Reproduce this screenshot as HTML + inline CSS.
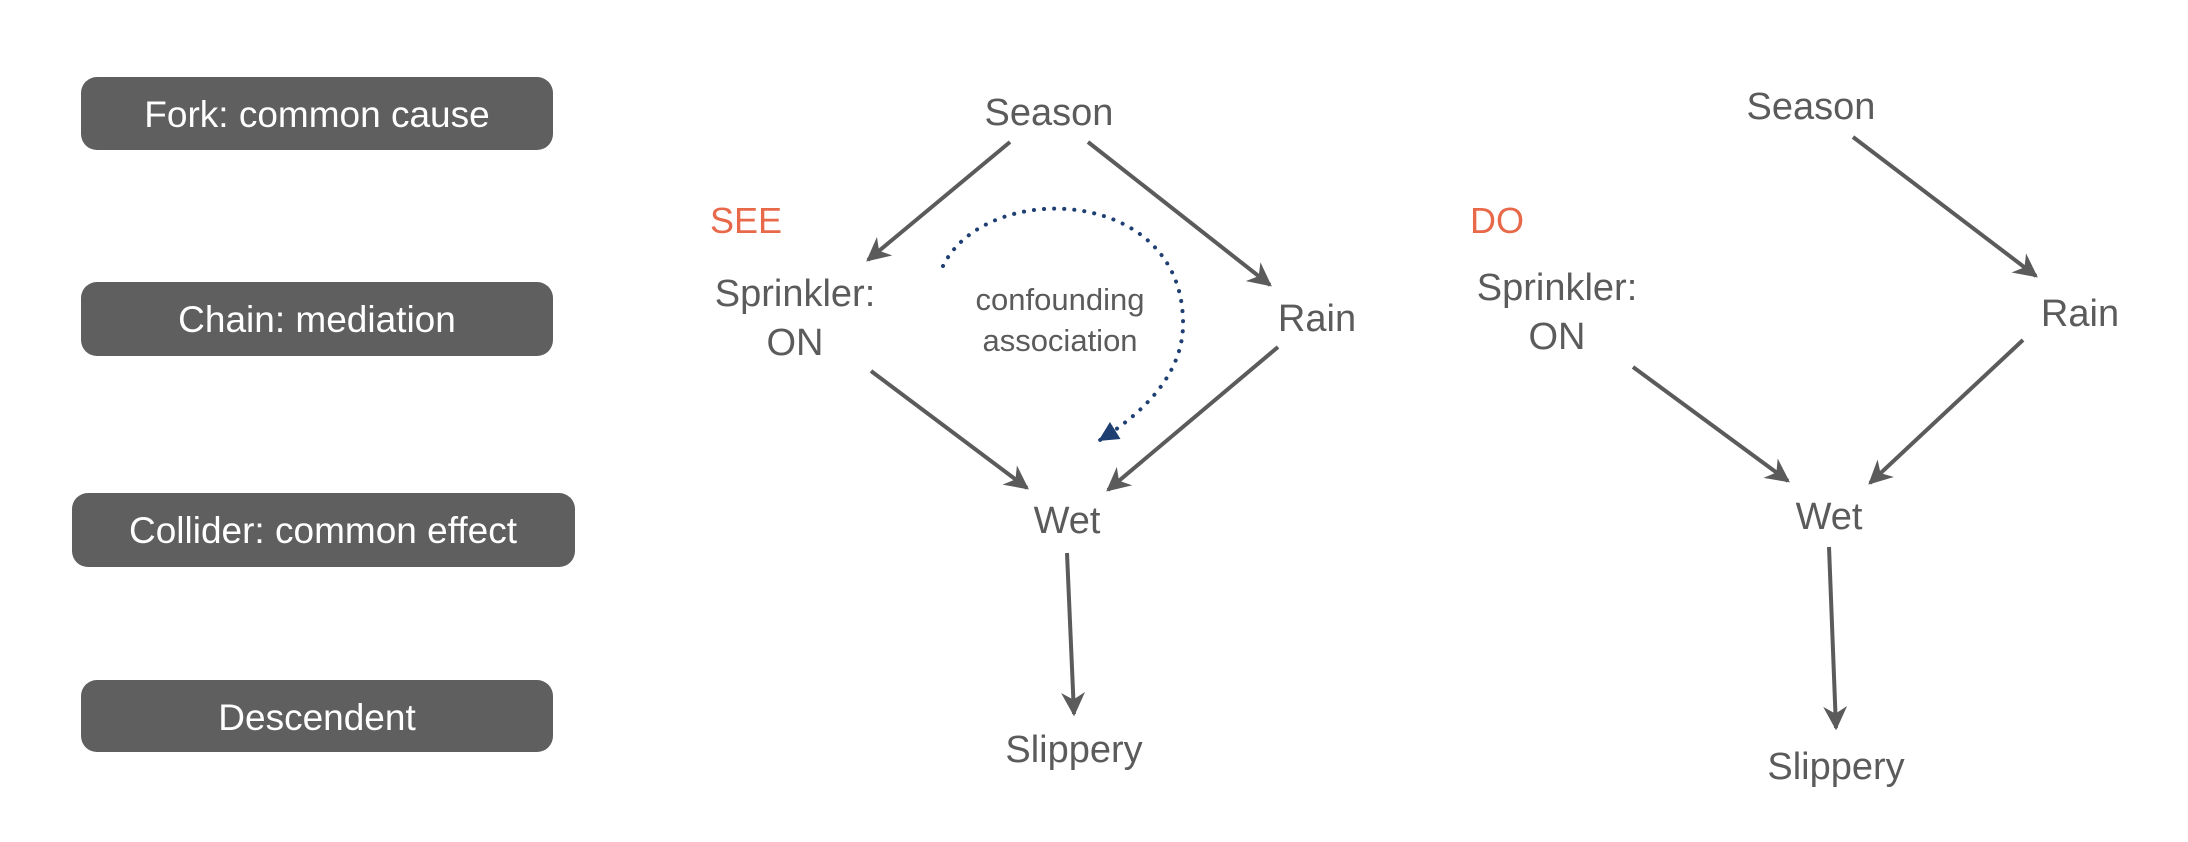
<!DOCTYPE html>
<html><head><meta charset="utf-8"><style>
html,body{margin:0;padding:0;background:#fff;}
svg{display:block;}
text{font-family:"Liberation Sans",sans-serif;}
</style></head><body>
<svg width="2188" height="842" viewBox="0 0 2188 842">
<defs>
<marker id="ah" viewBox="0 0 10 10" refX="9" refY="5" markerWidth="6" markerHeight="6" markerUnits="strokeWidth" orient="auto"><path d="M0,0 L10,5 L0,10 L3,5 z" fill="#5b5b5b"/></marker>
<marker id="ahb" viewBox="0 0 10 10" refX="9" refY="5" markerWidth="5" markerHeight="5" markerUnits="strokeWidth" orient="auto"><path d="M0,0 L10,5 L0,10 z" fill="#1f3f73"/></marker>
</defs>
<g font-size="37" fill="#fff" text-anchor="middle">
<rect x="81" y="77" width="472" height="73" rx="16" fill="#5f5f5f"/>
<text x="317" y="127">Fork: common cause</text>
<rect x="81" y="282" width="472" height="74" rx="16" fill="#5f5f5f"/>
<text x="317" y="332">Chain: mediation</text>
<rect x="72" y="493" width="503" height="74" rx="16" fill="#5f5f5f"/>
<text x="323" y="543">Collider: common effect</text>
<rect x="81" y="680" width="472" height="72" rx="16" fill="#5f5f5f"/>
<text x="317" y="730">Descendent</text>
</g>
<g fill="#5b5b5b" font-size="38" text-anchor="middle">
<text x="746" y="233" fill="#e8694a" font-size="36">SEE</text>
<text x="1049" y="125">Season</text>
<text x="795" y="306">Sprinkler:</text>
<text x="795" y="355">ON</text>
<text x="1317" y="331">Rain</text>
<text x="1067" y="533">Wet</text>
<text x="1074" y="762">Slippery</text>
<text x="1060" y="310" font-size="31">confounding</text>
<text x="1060" y="351" font-size="31">association</text>
<g stroke="#5b5b5b" stroke-width="4" marker-end="url(#ah)">
<line x1="1010" y1="142" x2="868" y2="260"/>
<line x1="1088" y1="142" x2="1270" y2="285"/>
<line x1="871" y1="371" x2="1027" y2="488"/>
<line x1="1278" y1="347" x2="1108" y2="490"/>
<line x1="1067" y1="553" x2="1074" y2="714"/>
</g>
<path d="M943,266 C985,180 1180,185 1183,320 C1185,375 1140,415 1100,440" fill="none" stroke="#1f3f73" stroke-width="4" stroke-linecap="round" stroke-dasharray="0.1 10" marker-end="url(#ahb)"/>
</g>
<g fill="#5b5b5b" font-size="38" text-anchor="middle">
<text x="1497" y="233" fill="#e8694a" font-size="36">DO</text>
<text x="1811" y="119">Season</text>
<text x="1557" y="300">Sprinkler:</text>
<text x="1557" y="349">ON</text>
<text x="2080" y="326">Rain</text>
<text x="1829" y="529">Wet</text>
<text x="1836" y="779">Slippery</text>
<g stroke="#5b5b5b" stroke-width="4" marker-end="url(#ah)">
<line x1="1853" y1="137" x2="2036" y2="276"/>
<line x1="1633" y1="367" x2="1788" y2="481"/>
<line x1="2023" y1="340" x2="1870" y2="483"/>
<line x1="1829" y1="547" x2="1836" y2="728"/>
</g>
</g>
</svg>
</body></html>
